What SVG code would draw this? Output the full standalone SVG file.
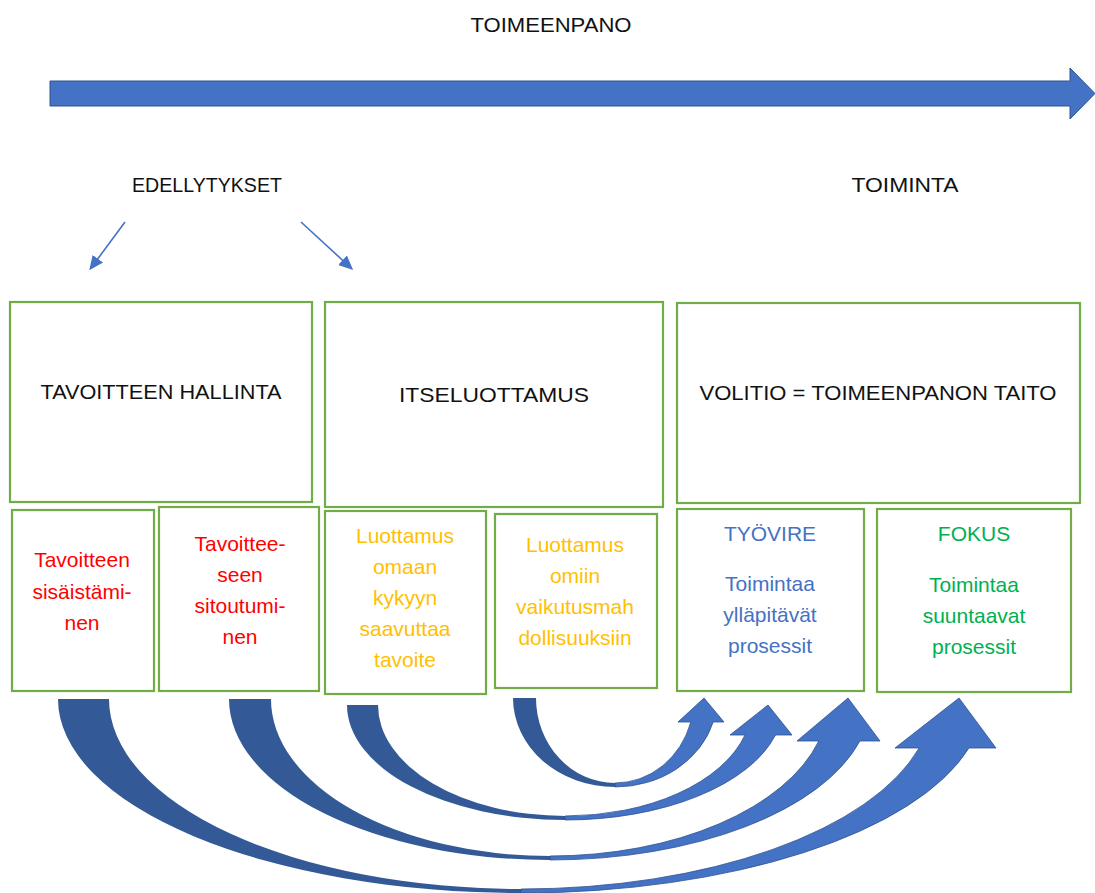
<svg xmlns="http://www.w3.org/2000/svg" width="1095" height="893" viewBox="0 0 1095 893">
  <style>
    text { font-family: "Liberation Sans", Arial, sans-serif; font-size: 21px; text-anchor: middle; }
    .hdr { fill: #111111; }
    .box { fill: #ffffff; stroke: #70AD47; stroke-width: 2.2; }
    .red { fill: #FF0000; }
    .amber { fill: #FFC000; }
    .blue { fill: #4472C4; }
    .green { fill: #00B050; }
    .back { fill: #335A97; }
    .front { fill: #4472C4; stroke: #2F528F; stroke-width: 0.8; }
    .thin { stroke: #4472C4; stroke-width: 1.6; fill: none; marker-end: url(#tri); }
  </style>
  <defs>
    <marker id="tri" viewBox="0 0 10 10" refX="8" refY="5" markerWidth="9" markerHeight="9" orient="auto" markerUnits="strokeWidth">
      <path d="M0,0.5 L10,5 L0,9.5 Z" fill="#4472C4"/>
    </marker>
  </defs>

  <rect width="1095" height="893" fill="#ffffff"/>

  <!-- timeline -->
  <g id="timeline">
    <text class="hdr" x="551" y="32" textLength="161" lengthAdjust="spacingAndGlyphs">TOIMEENPANO</text>
    <path d="M50,81 L1070,81 L1070,68 L1095,93.5 L1070,119 L1070,106 L50,106 Z" fill="#4472C4" stroke="#2F528F" stroke-width="1"/>
  </g>

  <g id="edellytykset">
    <text class="hdr" x="207" y="192" textLength="150" lengthAdjust="spacingAndGlyphs">EDELLYTYKSET</text>
  </g>
  <g id="toiminta">
    <text class="hdr" x="905" y="192" textLength="107" lengthAdjust="spacingAndGlyphs">TOIMINTA</text>
  </g>

  <!-- upper boxes -->
  <g id="tavoitteen-hallinta">
    <rect class="box" x="10" y="302" width="302" height="200"/>
    <text class="hdr" x="161" y="399" textLength="241" lengthAdjust="spacingAndGlyphs">TAVOITTEEN HALLINTA</text>
  </g>
  <g id="itseluottamus">
    <rect class="box" x="325" y="302" width="338" height="205"/>
    <text class="hdr" x="494" y="402" textLength="190" lengthAdjust="spacingAndGlyphs">ITSELUOTTAMUS</text>
  </g>
  <g id="volitio">
    <rect class="box" x="677" y="303" width="403" height="200"/>
    <text class="hdr" x="878" y="400" textLength="357" lengthAdjust="spacingAndGlyphs">VOLITIO = TOIMEENPANON TAITO</text>
  </g>

  <!-- lower boxes -->
  <g id="sisaistaminen">
    <rect class="box" x="12" y="510" width="142" height="181"/>
    <text class="red" x="82" y="567">Tavoitteen</text>
    <text class="red" x="82" y="599">sisäistämi-</text>
    <text class="red" x="82" y="630">nen</text>
  </g>
  <g id="sitoutuminen">
    <rect class="box" x="159" y="507" width="160" height="184"/>
    <text class="red" x="240" y="551">Tavoittee-</text>
    <text class="red" x="240" y="582">seen</text>
    <text class="red" x="240" y="613">sitoutumi-</text>
    <text class="red" x="240" y="644">nen</text>
  </g>
  <g id="luottamus-kykyyn">
    <rect class="box" x="325" y="511" width="161" height="183"/>
    <text class="amber" x="405" y="543">Luottamus</text>
    <text class="amber" x="405" y="574">omaan</text>
    <text class="amber" x="405" y="605">kykyyn</text>
    <text class="amber" x="405" y="636">saavuttaa</text>
    <text class="amber" x="405" y="667">tavoite</text>
  </g>
  <g id="luottamus-vaikutus">
    <rect class="box" x="495" y="514" width="162" height="174"/>
    <text class="amber" x="575" y="552">Luottamus</text>
    <text class="amber" x="575" y="583">omiin</text>
    <text class="amber" x="575" y="614">vaikutusmah</text>
    <text class="amber" x="575" y="645">dollisuuksiin</text>
  </g>
  <g id="tyovire">
    <rect class="box" x="677" y="509" width="187" height="182"/>
    <text class="blue" x="770" y="541">TYÖVIRE</text>
    <text class="blue" x="770" y="591">Toimintaa</text>
    <text class="blue" x="770" y="622">ylläpitävät</text>
    <text class="blue" x="770" y="653">prosessit</text>
  </g>
  <g id="fokus">
    <rect class="box" x="877" y="509" width="194" height="183"/>
    <text class="green" x="974" y="541">FOKUS</text>
    <text class="green" x="974" y="592">Toimintaa</text>
    <text class="green" x="974" y="623">suuntaavat</text>
    <text class="green" x="974" y="654">prosessit</text>
  </g>

  <!-- connectors -->
  <g id="connectors">
    <line class="thin" x1="125" y1="222" x2="91" y2="268"/>
    <line class="thin" x1="301" y1="222" x2="351" y2="268"/>

    <!-- curved up arrows: darker back arm, lighter front arm with head -->
    <path class="back" d="M58,699 A463,194 0 0 0 521,893 L521,889 A412,190 0 0 1 109,699 Z"/>
    <path class="front" d="M521,893 A463,194 0 0 0 969,748 L996,748 L959,698 L895,748 L919.1,748 A412,190 0 0 1 521,889 Z"/>

    <path class="back" d="M229,699 A321,161 0 0 0 550,860 L550,856 A279,157 0 0 1 271,699 Z"/>
    <path class="front" d="M550,860 A321,161 0 0 0 859.9,741 L880,741 L848,698 L797,741 L818.8,741 A279,157 0 0 1 550,856 Z"/>

    <path class="back" d="M347,705 A218,115 0 0 0 565,820 L565,816 A187,111 0 0 1 378,705 Z"/>
    <path class="front" d="M565,820 A218,115 0 0 0 775.5,735 L792,735 L768,705 L730,735 L745,735 A187,111 0 0 1 565,816 Z"/>

    <path class="back" d="M513,698 A102,89 0 0 0 615,787 L615,783 A79,85 0 0 1 536,698 Z"/>
    <path class="front" d="M615,787 A102,89 0 0 0 713.2,722 L724,722 L704,698 L678,722 L690.8,722 A79,85 0 0 1 615,783 Z"/>
  </g>
</svg>
